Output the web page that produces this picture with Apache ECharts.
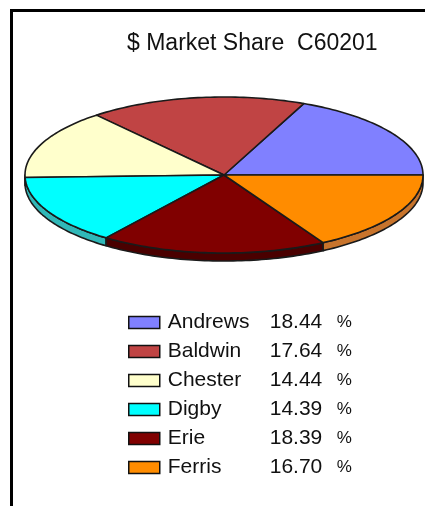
<!DOCTYPE html>
<html>
<head>
<meta charset="utf-8">
<script src="https://cdn.jsdelivr.net/npm/echarts@6/dist/echarts.min.js"></script>
<style>
  html, body { margin: 0; padding: 0; background: #fff; }
  #chart { position: absolute; left: 0; top: 0; width: 425px; height: 506px; }
  #frame {
    position: absolute; left: 10px; top: 9px; width: 430px; height: 510px;
    border-left: 3px solid #000; border-top: 3px solid #000; pointer-events: none;
  }
</style>
</head>
<body>
<div id="chart"></div>
<div id="frame"></div>
<script>
// Dollar market share by company, round C60201
const companies = ['Andrews', 'Baldwin', 'Chester', 'Digby', 'Erie', 'Ferris'];
const shares = [18.44, 17.64, 14.44, 14.39, 18.39, 16.70];
const topColors = ['#8080ff', '#c04444', '#ffffcc', '#00ffff', '#800000', '#ff8c00'];
const sideColors = ['#5c5cc0', '#8e3030', '#c8c89a', '#30b8b8', '#4a0000', '#c8742c'];
const titleText = '$ Market Share  C60201';

// Running start of each slice, in percent of the whole
const starts = shares.map((_, i) => shares.slice(0, i).reduce((a, b) => a + b, 0));

// Vertical squash of the disc and thickness of its rim
const TILT = 78 / 199;
const DEPTH = 8;
const EDGE = '#1a1a1a';

function renderSlice(params, api) {
  const start = api.value(0);
  const size = api.value(1);
  const end = start + size;
  const c = api.coord([0, 0]);
  const squash = p => [p[0], c[1] + (p[1] - c[1]) * TILT];
  const arcPoints = (from, to) => {
    const steps = Math.max(2, Math.ceil((to - from) * 3));
    const pts = [];
    for (let k = 0; k <= steps; k++) {
      pts.push(squash(api.coord([1, from + (to - from) * k / steps])));
    }
    return pts;
  };
  const idx = params.seriesIndex;
  const children = [];
  // Rim: only the front half of the disc (angles 180..360) is visible
  const lo = Math.max(start, 50), hi = Math.min(end, 100);
  if (hi > lo) {
    const upper = arcPoints(lo, hi);
    const lower = upper.map(p => [p[0], p[1] + DEPTH]).reverse();
    children.push({
      type: 'polygon', z2: 1,
      shape: { points: upper.concat(lower) },
      style: { fill: sideColors[idx], stroke: EDGE, lineWidth: 1.6, lineJoin: 'round' }
    });
  }
  // Top face of the slice
  children.push({
    type: 'polygon', z2: 10,
    shape: { points: [c].concat(arcPoints(start, end)) },
    style: { fill: topColors[idx], stroke: EDGE, lineWidth: 1.6, lineJoin: 'round' }
  });
  return { type: 'group', children };
}

const chart = echarts.init(document.getElementById('chart'), null, { renderer: 'canvas' });

const fontFamily = 'Liberation Sans, Arial, sans-serif';

chart.setOption({
  animation: false,
  backgroundColor: '#fff',
  title: {
    text: titleText,
    left: 122,
    top: 27,
    textStyle: { fontFamily, fontSize: 23, fontWeight: 'normal', color: '#111' }
  },
  polar: { center: [224, 175], radius: 199 },
  angleAxis: { type: 'value', min: 0, max: 100, startAngle: 0, clockwise: false, show: false },
  radiusAxis: { type: 'value', min: 0, max: 1, show: false },
  legend: {
    orient: 'vertical',
    left: 123,
    top: 307,
    itemWidth: 31,
    itemHeight: 12,
    itemGap: 8,
    icon: 'rect',
    selectedMode: false,
    data: companies,
    itemStyle: { borderColor: '#111', borderWidth: 1.5 },
    formatter: name => {
      const i = companies.indexOf(name);
      return '{s|}{n|' + name + '}{v|' + shares[i].toFixed(2) + '}{p|%}';
    },
    textStyle: {
      fontFamily, fontSize: 21, color: '#111', lineHeight: 20,
      rich: {
        s: { width: 3, lineHeight: 20 },
        n: { width: 102, fontFamily, fontSize: 21, color: '#111', lineHeight: 20 },
        v: { width: 67, fontFamily, fontSize: 21, color: '#111', lineHeight: 20 },
        p: { fontFamily, fontSize: 17, color: '#111', lineHeight: 20 }
      }
    }
  },
  series: companies.map((name, i) => ({
    type: 'custom',
    name,
    coordinateSystem: 'polar',
    itemStyle: { color: topColors[i] },
    renderItem: renderSlice,
    data: [[starts[i], shares[i]]]
  }))
});
</script>
</body>
</html>
